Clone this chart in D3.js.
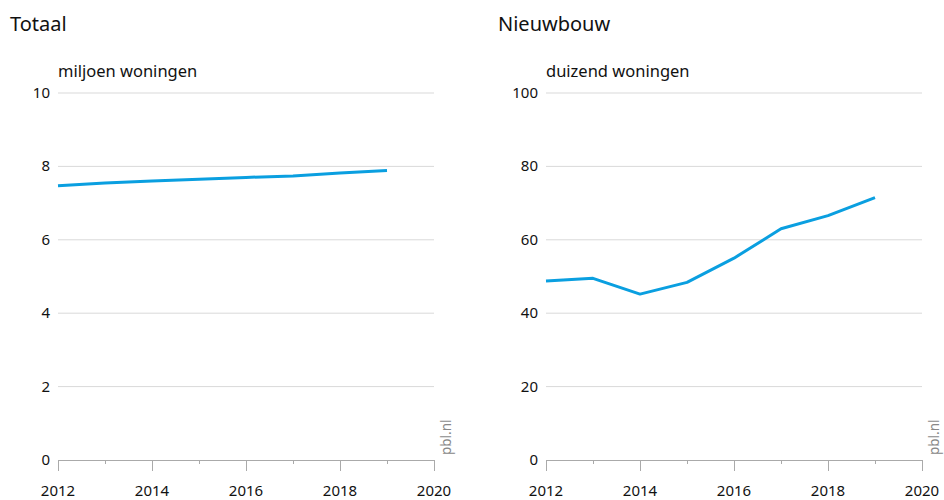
<!DOCTYPE html>
<html>
<head>
<meta charset="utf-8">
<script src="https://cdn.jsdelivr.net/npm/d3@7"></script>
<style>
  body { margin: 0; background: #fff; }
  text { font-family: "Noto Sans", sans-serif; }
</style>
</head>
<body>
<div id="d3-container"></div>
<script>
const years = [2012, 2013, 2014, 2015, 2016, 2017, 2018, 2019];
const totaal = [7.47, 7.55, 7.60, 7.65, 7.70, 7.74, 7.82, 7.89];
const nieuwbouw = [48.8, 49.5, 45.2, 48.4, 55.0, 63.0, 66.6, 71.5];
const totaalTicks = [0, 2, 4, 6, 8, 10];
const nieuwbouwTicks = [0, 20, 40, 60, 80, 100];
const xTicks = [2012, 2014, 2016, 2018, 2020];

const panels = [
  { title: "Totaal", unit: "miljoen woningen", values: totaal, yMax: 10, ticks: totaalTicks, left: 58 },
  { title: "Nieuwbouw", unit: "duizend woningen", values: nieuwbouw, yMax: 100, ticks: nieuwbouwTicks, left: 546 }
];

const width = 944, height = 500;
const plotTop = 93, plotBottom = 460, plotW = 376;

const svg = d3.select("#d3-container")
  .append("svg")
  .attr("width", width)
  .attr("height", height);

panels.forEach(p => {
  const g = svg.append("g");
  const x = d3.scaleLinear().domain([2012, 2020]).range([p.left, p.left + plotW]);
  const y = d3.scaleLinear().domain([0, p.yMax]).range([plotBottom, plotTop]);

  g.append("text")
    .attr("x", p.left - 48).attr("y", 31)
    .attr("font-size", 20).attr("fill", "#111")
    .text(p.title);

  g.append("text")
    .attr("x", p.left).attr("y", 77)
    .attr("font-size", 16.5).attr("fill", "#111")
    .text(p.unit);

  // grid
  g.selectAll(".grid")
    .data(p.ticks.filter(d => d > 0))
    .join("line")
    .attr("x1", p.left).attr("x2", p.left + plotW)
    .attr("y1", d => y(d)).attr("y2", d => y(d))
    .attr("stroke", "#d9d9d9").attr("stroke-width", 1);

  // y labels
  g.selectAll(".ylab")
    .data(p.ticks)
    .join("text")
    .attr("x", p.left - 8).attr("y", d => y(d) + 5)
    .attr("text-anchor", "end")
    .attr("font-size", 15).attr("fill", "#111")
    .text(d => d);

  // x axis
  const xAxis = d3.axisBottom(x)
    .tickValues(d3.range(2012, 2021))
    .tickSize(0)
    .tickFormat("");
  const ax = g.append("g")
    .attr("transform", `translate(0,${plotBottom})`)
    .call(xAxis);
  ax.select(".domain").attr("stroke", "#aaa").attr("d", `M${p.left},0.5H${p.left + plotW}`);
  ax.selectAll(".tick line")
    .attr("stroke", "#aaa")
    .attr("y2", d => d % 2 === 0 ? 11 : 4);

  g.selectAll(".xlab")
    .data(xTicks)
    .join("text")
    .attr("x", d => x(d)).attr("y", 496)
    .attr("text-anchor", "middle")
    .attr("font-size", 15).attr("fill", "#111")
    .text(d => d);

  // line
  const line = d3.line()
    .x((d, i) => x(years[i]))
    .y(d => y(d));
  g.append("path")
    .datum(p.values)
    .attr("d", line)
    .attr("fill", "none")
    .attr("stroke", "#0a9fe0")
    .attr("stroke-width", 3)
    .attr("stroke-linejoin", "round");

  g.append("text")
    .attr("transform", `translate(${p.left + plotW + 17},455) rotate(-90)`)
    .attr("font-size", 13.5).attr("fill", "#888")
    .text("pbl.nl");
});
</script>
</body>
</html>
